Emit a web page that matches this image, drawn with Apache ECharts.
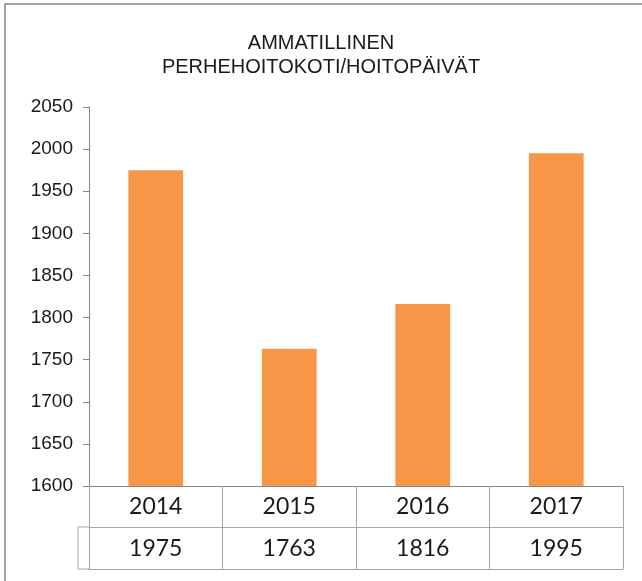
<!DOCTYPE html>
<html lang="fi">
<head>
<meta charset="utf-8">
<title>Ammatillinen perhehoitokoti</title>
<script src="https://cdn.jsdelivr.net/npm/echarts@6/dist/echarts.min.js"></script>
<style>
html, body { margin: 0; padding: 0; background: #fff; }
#main { width: 642px; height: 581px; }
</style>
</head>
<body>
<div id="main"></div>
<script>
// data
var years = ['2014', '2015', '2016', '2017'];
var days = [1975, 1763, 1816, 1995];

var chart = echarts.init(document.getElementById('main'));

var tableLine = { color: '#a6a6a6', width: 1 };

chart.setOption({
	animation: false,
	title: {
		text: 'AMMATILLINEN\nPERHEHOITOKOTI/HOITOPÄIVÄT',
		left: 'center',
		top: 26,
		textStyle: {
			fontFamily: 'Liberation Sans',
			fontSize: 20,
			fontWeight: 'normal',
			color: '#1a1a1a',
			lineHeight: 24
		}
	},
	grid: { left: 89, right: 19, top: 107, bottom: 95 },
	yAxis: {
		type: 'value',
		min: 1600,
		max: 2050,
		interval: 50,
		splitLine: { show: false },
		axisLine: { show: true, lineStyle: { color: '#868686' } },
		axisTick: { show: true, length: 6, lineStyle: { color: '#868686' } },
		axisLabel: {
			margin: 16,
			fontFamily: 'Liberation Sans',
			fontSize: 19,
			color: '#1a1a1a',
			formatter: function (v) { return String(v); }
		}
	},
	xAxis: [{
		type: 'category',
		data: years,
		position: 'bottom',
		axisLine: { lineStyle: { color: '#868686' } },
		axisTick: { show: true, interval: 0, length: 41, lineStyle: tableLine },
		axisLabel: { margin: 9, fontFamily: 'Lato', fontSize: 23, color: '#1a1a1a' }
	}, {
		type: 'category',
		data: years,
		position: 'bottom',
		offset: 41,
		axisLine: { lineStyle: tableLine },
		axisTick: { show: true, interval: 0, length: 42, lineStyle: tableLine },
		axisLabel: {
			margin: 10, fontFamily: 'Lato', fontSize: 23, color: '#1a1a1a',
			formatter: function (v, i) { return String(days[i]); }
		}
	}, {
		type: 'category',
		data: years,
		position: 'bottom',
		offset: 83,
		axisLine: { lineStyle: tableLine },
		axisTick: { show: false },
		axisLabel: { show: false }
	}],
	series: [{
		type: 'bar',
		xAxisIndex: 0,
		data: days,
		barWidth: '41%',
		itemStyle: { color: '#f79646' }
	}],
	graphic: [{
		type: 'rect',
		shape: { x: 5, y: 4, width: 700, height: 700 },
		style: { fill: 'none', stroke: '#878787', lineWidth: 1.5 }
	}, {
		// stub at left of the value row
		type: 'polyline',
		shape: { points: [[89, 527], [78, 527], [78, 569], [89, 569]] },
		style: { fill: 'none', stroke: '#a6a6a6', lineWidth: 1 }
	}]
});
</script>
</body>
</html>
